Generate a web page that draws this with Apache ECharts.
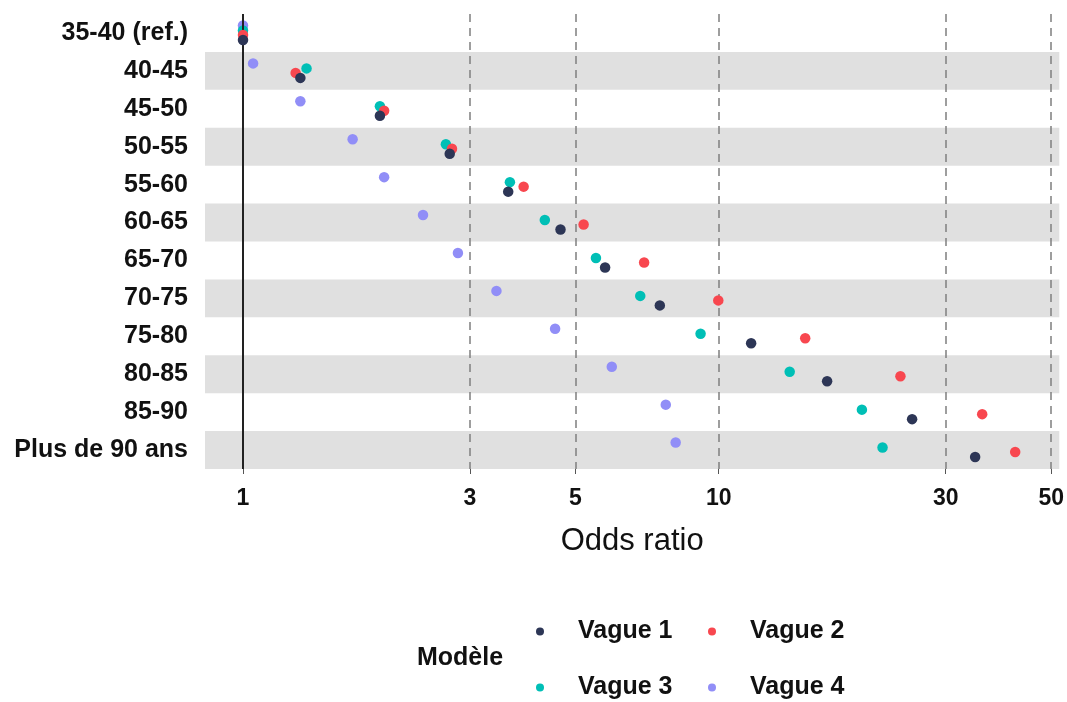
<!DOCTYPE html>
<html>
<head>
<meta charset="utf-8">
<script src="https://cdn.jsdelivr.net/npm/echarts@6/dist/echarts.min.js"></script>
<style>
html,body{margin:0;padding:0;background:#fff;}
#chart{width:1067px;height:702px;}
</style>
</head>
<body>
<div id="chart"></div>
<script>
// ---- data (odds ratios) ----
var categories = ['35-40 (ref.)','40-45','45-50','50-55','55-60','60-65','65-70','70-75','75-80','80-85','85-90','Plus de 90 ans'];
var vague1 = [1, 1.32, 1.94, 2.72, 3.61, 4.65, 5.77, 7.52, 11.7, 16.9, 25.5, 34.6];
var vague2 = [1, 1.29, 1.98, 2.75, 3.89, 5.20, 6.97, 9.98, 15.2, 24.1, 35.8, 42.0];
var vague3 = [1, 1.36, 1.94, 2.67, 3.64, 4.31, 5.52, 6.84, 9.16, 14.1, 20.0, 22.1];
var vague4 = [1, 1.05, 1.32, 1.70, 1.98, 2.39, 2.83, 3.41, 4.53, 5.96, 7.74, 8.12];
var seriesNames = ['Vague 1','Vague 2','Vague 3','Vague 4'];
var xTickValues = [1, 3, 5, 10, 30, 50];
var xMinOR = 0.832, xMaxOR = 52;
var refOR = 1;

var FONT = '"Liberation Sans", Arial, sans-serif';
var colors = {'Vague 1':'#2d3656','Vague 2':'#f8474f','Vague 3':'#00bfb6','Vague 4':'#918ef7'};
var dodge = {'Vague 1':7,'Vague 2':2,'Vague 3':-2.5,'Vague 4':-7.5};

function toLog(v){ return Math.log10(v); }
function pts(arr){ return arr.map(function(v,i){ return [toLog(v), categories[i]]; }); }
var seriesData = {'Vague 1':vague1,'Vague 2':vague2,'Vague 3':vague3,'Vague 4':vague4};

var series = [{
  type:'scatter', data:[], z:1, silent:true,
  markLine:{ silent:true, symbol:['none','none'], label:{show:false},
    lineStyle:{type:'solid', color:'#222222', width:2},
    data:[{xAxis: toLog(refOR)}], animation:false }
}];
// draw order: Vague 4 first, Vague 1 last (on top)
['Vague 4','Vague 3','Vague 2','Vague 1'].forEach(function(n, k){
  series.push({
    name:n, type:'scatter', data:pts(seriesData[n]),
    symbol:'circle', symbolSize:10.5, symbolOffset:[0, dodge[n]],
    itemStyle:{color:colors[n], opacity:1}, z:3+k
  });
});

function legendFor(name, left, top){
  return {
    data:[name], left:left, top:top, padding:0, orient:'horizontal',
    icon:'circle', itemWidth:66, itemHeight:8, selectedMode:false,
    textStyle:{fontFamily:FONT, fontSize:25, fontWeight:'bold', color:'#111'}
  };
}

var option = {
  animation:false,
  backgroundColor:'#ffffff',
  color:seriesNames.map(function(n){return colors[n];}),
  title:{ text:'Modèle', left:417, top:646, padding:0,
    textStyle:{fontFamily:FONT, fontSize:25, fontWeight:'bold', color:'#111', lineHeight:25} },
  legend:[
    legendFor('Vague 1', 536, 619),
    legendFor('Vague 2', 708, 619),
    legendFor('Vague 3', 536, 675),
    legendFor('Vague 4', 708, 675)
  ],
  grid:{ left:205, right:7, top:14, bottom:233, containLabel:false },
  xAxis:{
    type:'value', min:toLog(xMinOR), max:toLog(xMaxOR),
    name:'Odds ratio', nameLocation:'middle', nameGap:57,
    nameTextStyle:{fontFamily:FONT, fontSize:31, color:'#111'},
    axisLine:{show:false},
    axisTick:{show:true, length:5, customValues:xTickValues.map(toLog), lineStyle:{color:'#555', width:1}},
    axisLabel:{ customValues:xTickValues.map(toLog), margin:18,
      fontFamily:FONT, fontSize:23, fontWeight:'bold', color:'#111',
      formatter:function(v){ return String(Math.round(Math.pow(10, v))); } },
    splitLine:{show:true, lineStyle:{type:[8,6], color:'#7f7f7f', width:1.5}}
  },
  yAxis:{
    type:'category', data:categories, inverse:true,
    axisLine:{show:false}, axisTick:{show:false},
    axisLabel:{margin:17, fontFamily:FONT, fontSize:25, fontWeight:'bold', color:'#111'},
    splitLine:{show:false},
    splitArea:{show:true, areaStyle:{color:['rgba(255,255,255,0)','#e0e0e0']}}
  },
  series:series
};

var chart = echarts.init(document.getElementById('chart'), null, {renderer:'canvas'});
chart.setOption(option);
</script>
</body>
</html>
